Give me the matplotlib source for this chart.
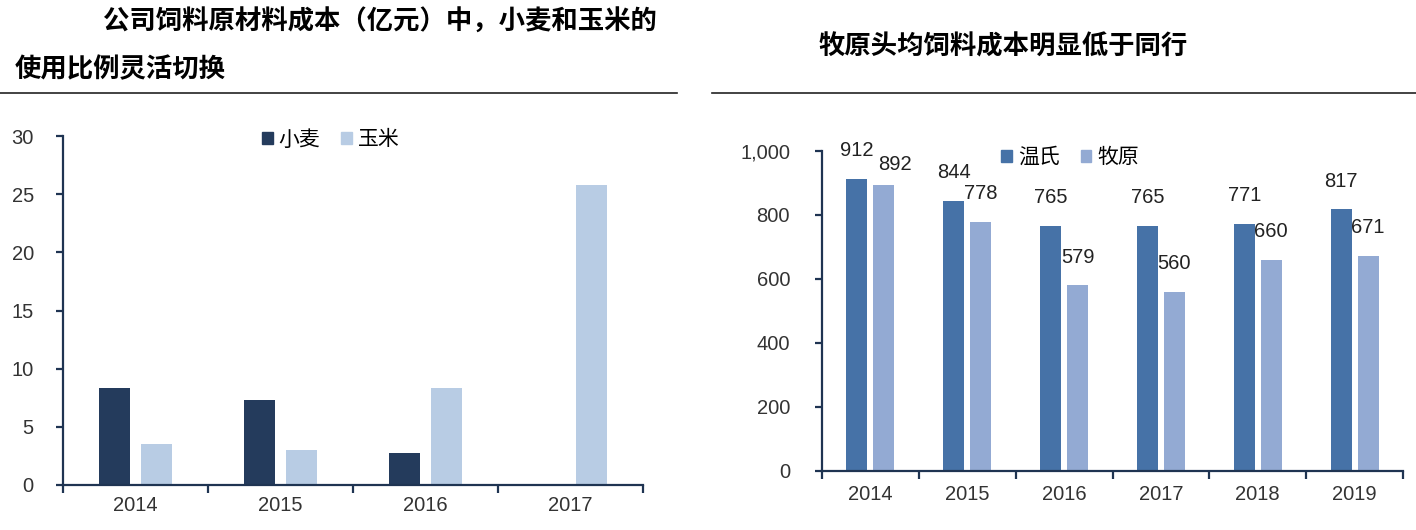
import matplotlib
matplotlib.use("Agg")
import matplotlib.pyplot as plt
from matplotlib.patches import Patch
from matplotlib.lines import Line2D
import numpy as np

# fonts: latin for numbers, CJK for chinese text
plt.rcParams['font.family'] = ['Liberation Sans', 'Noto Sans CJK SC']
CJK = ['Noto Sans CJK SC', 'DejaVu Sans']

# left chart data (亿元)
years_left = ['2014', '2015', '2016', '2017']
wheat = [8.35, 7.3, 2.75, 0]
corn = [3.5, 3.05, 8.35, 25.8]

# right chart data
years_right = ['2014', '2015', '2016', '2017', '2018', '2019']
wens = [912, 844, 765, 765, 771, 817]
muyuan = [892, 778, 579, 560, 660, 671]

W, H = 1416, 530
fig = plt.figure(figsize=(W / 100, H / 100), dpi=100)
fig.patch.set_facecolor('white')

axis_color = '#1f3452'
tick_text = '#333333'


def px_axes(x0, x1, ytop, ybot):
    return fig.add_axes([x0 / W, (H - ybot) / H, (x1 - x0) / W, (ybot - ytop) / H])


def style_axes(ax, n, ypad, xpad):
    for s in ['top', 'right']:
        ax.spines[s].set_visible(False)
    for s in ['left', 'bottom']:
        ax.spines[s].set_color(axis_color)
        ax.spines[s].set_linewidth(1.6)
    ax.set_xlim(-0.5, n - 0.5)
    ax.set_xticks(np.arange(n))
    ax.set_xticks(np.arange(n + 1) - 0.5, minor=True)
    ax.tick_params(axis='x', which='major', length=0, pad=xpad, labelsize=14.5, labelcolor=tick_text)
    ax.tick_params(axis='x', which='minor', length=6, width=1.6, color=axis_color, direction='out')
    ax.tick_params(axis='y', length=5, width=1.6, color=axis_color, direction='out',
                   pad=ypad, labelsize=14.5, labelcolor=tick_text)


# ---- left chart ----
ax1 = px_axes(63, 643, 136, 485)
x = np.arange(len(years_left))
ax1.bar(x - 0.145, wheat, width=0.22, color='#243b5c')
ax1.bar(x + 0.145, corn, width=0.22, color='#b8cce4')
ax1.set_ylim(0, 30)
ax1.set_yticks(range(0, 31, 5))
ax1.set_xticklabels(years_left)
style_axes(ax1, len(years_left), 16, 8)
ax1.legend(handles=[Patch(color='#243b5c', label='小麦'), Patch(color='#b8cce4', label='玉米')],
           loc='center', bbox_to_anchor=(0.462, 0.99), ncol=2, frameon=False,
           handlelength=0.5, handleheight=0.5, handletextpad=0.3, columnspacing=1.0,
           prop={'family': CJK, 'size': 15})

# ---- right chart ----
ax2 = px_axes(822, 1403, 150.7, 470.7)
x = np.arange(len(years_right))
b1 = ax2.bar(x - 0.14, wens, width=0.217, color='#4672a7')
b2 = ax2.bar(x + 0.14, muyuan, width=0.217, color='#93aad3')
ax2.set_ylim(0, 1000)
ax2.set_yticks(range(0, 1001, 200))
ax2.set_yticklabels(['0', '200', '400', '600', '800', '1,000'])
ax2.set_xticklabels(years_right)
style_axes(ax2, len(years_right), 18, 10)
for bars, side in ((b1, 0), (b2, 1)):
    for i, r in enumerate(bars):
        # the first 牧原 label sits lower and to the right so it clears the 温氏 one
        off = (8, 8) if (side == 1 and i == 0) else (0, 13.5)
        ax2.annotate(f'{int(r.get_height())}', (r.get_x() + r.get_width() / 2, r.get_height()),
                     xytext=off, textcoords='offset points', ha='center', va='bottom',
                     fontsize=14.5, color='#222222')
ax2.legend(handles=[Patch(color='#4672a7', label='温氏'), Patch(color='#93aad3', label='牧原')],
           loc='center', bbox_to_anchor=(0.427, 0.98), ncol=2, frameon=False,
           handlelength=0.5, handleheight=0.5, handletextpad=0.3, columnspacing=1.0,
           prop={'family': CJK, 'size': 15})

# ---- titles and separator lines ----
fig.text(103 / W, 1 - 22 / H, '公司饲料原材料成本（亿元）中，小麦和玉米的', family=CJK,
         fontsize=19, fontweight='bold', ha='left', va='center')
fig.text(15 / W, 1 - 70 / H, '使用比例灵活切换', family=CJK,
         fontsize=19, fontweight='bold', ha='left', va='center')
fig.text(818 / W, 1 - 47 / H, '牧原头均饲料成本明显低于同行', family=CJK,
         fontsize=19, fontweight='bold', ha='left', va='center')
fig.add_artist(Line2D([0, 677 / W], [1 - 93 / H] * 2, color='#222222', linewidth=1.2))
fig.add_artist(Line2D([712 / W, 1], [1 - 93 / H] * 2, color='#222222', linewidth=1.2))

fig.savefig('out.png', dpi=100, facecolor='white')
